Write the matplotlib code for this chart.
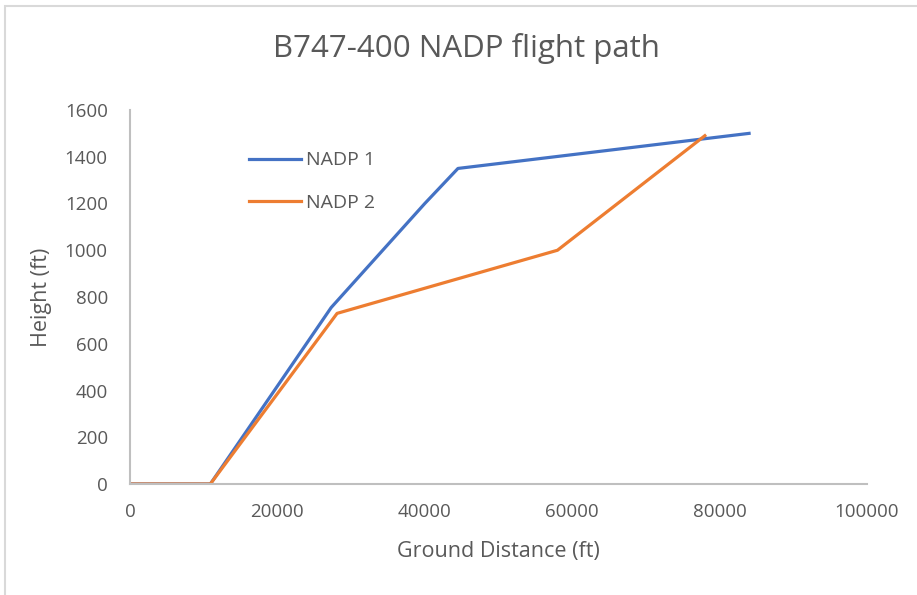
# Script that draws the B747-400 NADP flight path chart.

import matplotlib.pyplot as plt
from matplotlib.patches import Rectangle

# Data
nadp1_distance = [0, 10900, 27300, 40000, 44500, 84000]
nadp1_height = [0, 0, 755, 1200, 1350, 1500]
nadp2_distance = [0, 10900, 28100, 58000, 78000]
nadp2_height = [0, 0, 730, 1000, 1490]
series_labels = ["NADP 1", "NADP 2"]
x_ticks = [0, 20000, 40000, 60000, 80000, 100000]
y_ticks = [0, 200, 400, 600, 800, 1000, 1200, 1400, 1600]

plt.rcParams['font.family'] = ['Open Sans', 'DejaVu Sans']
text_color = '#595959'
axis_color = '#bfbfbf'

fig = plt.figure(figsize=(9.17, 5.95), dpi=100)
ax = fig.add_axes([130 / 917, 1 - 484 / 595, (867 - 130) / 917, (484 - 110) / 595])

ax.plot(nadp1_distance, nadp1_height, color='#4472C4', linewidth=2.3,
        label=series_labels[0], solid_joinstyle='round')
ax.plot(nadp2_distance, nadp2_height, color='#ED7D31', linewidth=2.3,
        label=series_labels[1], solid_joinstyle='round')

ax.set_xlim(0, 100000)
ax.set_ylim(0, 1600)
ax.set_xticks(x_ticks)
ax.set_yticks(y_ticks)
ax.tick_params(length=0, labelsize=13.5, colors=text_color)
ax.tick_params(axis='x', pad=14)
ax.tick_params(axis='y', pad=16)

for side in ['top', 'right']:
    ax.spines[side].set_visible(False)
for side in ['left', 'bottom']:
    ax.spines[side].set_color(axis_color)
    ax.spines[side].set_linewidth(1.5)

ax.set_xlabel("Ground Distance (ft)", fontsize=15.5, color=text_color, labelpad=14)
ax.set_ylabel("Height (ft)", fontsize=15.5, color=text_color, labelpad=9)

fig.text(0.509, 1 - 48 / 595, "B747-400 NADP flight path", fontsize=22.5,
         color=text_color, ha='center', va='center')

ax.legend(loc='upper left', bbox_to_anchor=(0.138, 0.936), frameon=False,
          fontsize=14, labelcolor=text_color, handlelength=2.67,
          handletextpad=0.26, labelspacing=1.25)

# Light chart border
fig.patches.append(Rectangle((5 / 917, -0.1), 1.2, 1 - 6 / 595 + 0.1,
                             transform=fig.transFigure, fill=False,
                             edgecolor='#d9d9d9', linewidth=1.5))

plt.savefig('out.png', dpi=100)
